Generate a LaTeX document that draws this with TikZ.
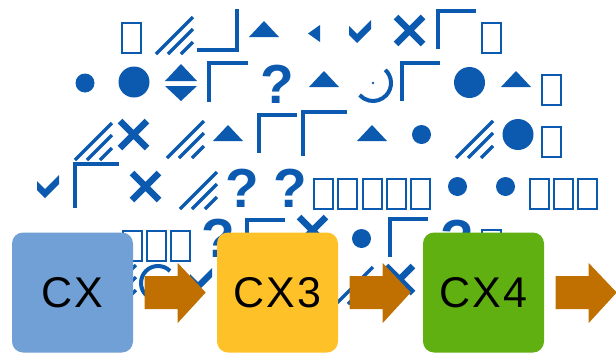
\documentclass[tikz,border=0pt]{standalone}
\usepackage{fontspec}
\setmainfont{Liberation Sans}
\newfontfamily\stagefont[LetterSpace=5]{Liberation Sans}
\usetikzlibrary{calc}
\definecolor{glyphblue}{RGB}{11,90,175}
\definecolor{cxblue}{RGB}{112,160,213}
\definecolor{cxyellow}{RGB}{254,193,40}
\definecolor{cxgreen}{RGB}{96,176,18}
\definecolor{arrowbrown}{RGB}{192,112,0}
\tikzset{
  gfill/.style={fill=glyphblue},
  gline/.style={draw=glyphblue, line width=4pt},
  tofu/.style={draw=glyphblue, line width=2pt},
  hatch/.style={draw=glyphblue, line width=3.5pt},
  xstroke/.style={draw=glyphblue, line width=6.5pt},
  qm/.style={text=glyphblue, font=\fontsize{55}{55}\selectfont\bfseries, inner sep=0pt, anchor=base},
  stage/.style={rounded corners=11pt, minimum width=121pt, minimum height=120pt, inner sep=0pt, font=\stagefont\fontsize{43}{43}\selectfont},
  blockarrow/.style={fill=arrowbrown}
}
\newcommand\gtofu[2]{\draw[tofu] (#1+1,#2+1) rectangle ++(19,30);}
\newcommand\gcorner[3]{\draw[gline] (#1+2,#2+#3) |- (#1+#3,#2+2);}
\newcommand\gtri[2]{\fill[gfill] (#1,#2+16) -- ++(30,0) -- (#1+15,#2) -- cycle;}
\newcommand\gdot[3]{\fill[gfill] (#1,#2) circle[radius=#3];}
\newcommand\gcross[2]{\draw[xstroke] (#1+3,#2+3) -- ++(27,27) (#1+30,#2+3) -- ++(-27,27);}
\newcommand\gtick[2]{\fill[gfill] (#1,#2+6) -- ++(8,8) -- ++(14,-14) -- ++(0,9) -- ++(-14,14) -- ++(-8,-8) -- cycle;}
\newcommand\ghatch[2]{\draw[hatch] (#1,#2+37) -- ++(37,-37) (#1+12,#2+37) -- ++(25,-25) (#1+25,#2+37) -- ++(12,-12);}
\newcommand\barrow[1]{\fill[blockarrow] ($(#1.east)+(11.5,-16.5)$) -- ++(33,0) -- ++(0,-13) -- ++(28,29.5) -- ++(-28,30.5) -- ++(0,-14) -- ++(-33,0) -- cycle;}
\begin{document}
\begin{tikzpicture}[x=1pt, y=-1pt]
  \useasboundingbox (0,0) rectangle (616,354);

  \gtofu{121}{22}
  \ghatch{156}{17}
  \draw[gline] (197,50) -| (236.5,9);
  \gtri{249}{21}
  \fill[gfill] (320,25) -- (320,42) -- (308,33.5) -- cycle;
  \gtick{349}{20}
  \gcross{393}{14}
  \gcorner{436}{9}{40}
  \gtofu{481}{22}

  \gdot{85}{83}{9.5}
  \gdot{134}{82}{15.5}
  \fill[gfill] (165,81) -- (197,81) -- (181,64) -- cycle (165,86) -- (197,86) -- (181,101) -- cycle;
  \gcorner{207}{61}{41}
  \node[qm] (q1) at (277.5,103) {?};
  \gtri{309}{71}
  \draw[gline] (373,83) ++(-47:18) arc[start angle=-47, end angle=138, radius=18];
  \gdot{373}{83}{1.3}
  \gcorner{400}{61}{40}
  \gdot{469.5}{82.5}{15.5}
  \gtri{501}{71}
  \gtofu{541}{74}

  \ghatch{75}{123}
  \gcross{117}{118}
  \ghatch{167}{121}
  \gtri{213}{125}
  \gcorner{257}{113}{40}
  \gcorner{301}{110}{46}
  \gtri{357}{125}
  \gdot{421.5}{134.5}{9.5}
  \ghatch{456}{121}
  \gdot{518}{134.5}{15.5}
  \gtofu{541}{126}

  \gtick{37}{175}
  \gcorner{73}{162}{46}
  \gcross{129}{170}
  \ghatch{180}{172}
  \node[qm] (q2) at (242.5,207) {?};
  \node[qm] (q3) at (290.5,207) {?};
  \foreach \i in {0,...,4} {\gtofu{313+24.3*\i}{178}}
  \gdot{457.5}{186.5}{9.5}
  \gdot{505.5}{186.5}{9.5}
  \foreach \i in {0,1,2} {\gtofu{529+24*\i}{178}}

  \foreach \i in {0,1,2} {\gtofu{122+24*\i}{230}}
  \node[qm] (q4) at (218,257) {?};
  \gcorner{245}{218}{40}
  \gcross{296}{214}
  \gdot{361.5}{238.5}{9.5}
  \gcorner{388}{217}{40}
  \node[qm] (q5) at (457.5,258) {?};
  \gtofu{481}{229}

  \ghatch{99}{265}
  \draw[gline] (158,283) ++(-45:17) arc[start angle=-45, end angle=-225, radius=17];
  \gtick{190}{268}
  \ghatch{336}{267}
  \gcross{383}{263}

  \node[stage, fill=cxblue] (cx) at (72.5,292.5) {CX};
  \node[stage, fill=cxyellow] (cx3) at (277.5,292.5) {CX3};
  \node[stage, fill=cxgreen] (cx4) at (483.5,292.5) {CX4};
  \barrow{cx}
  \barrow{cx3}
  \barrow{cx4}
\end{tikzpicture}
\end{document}
